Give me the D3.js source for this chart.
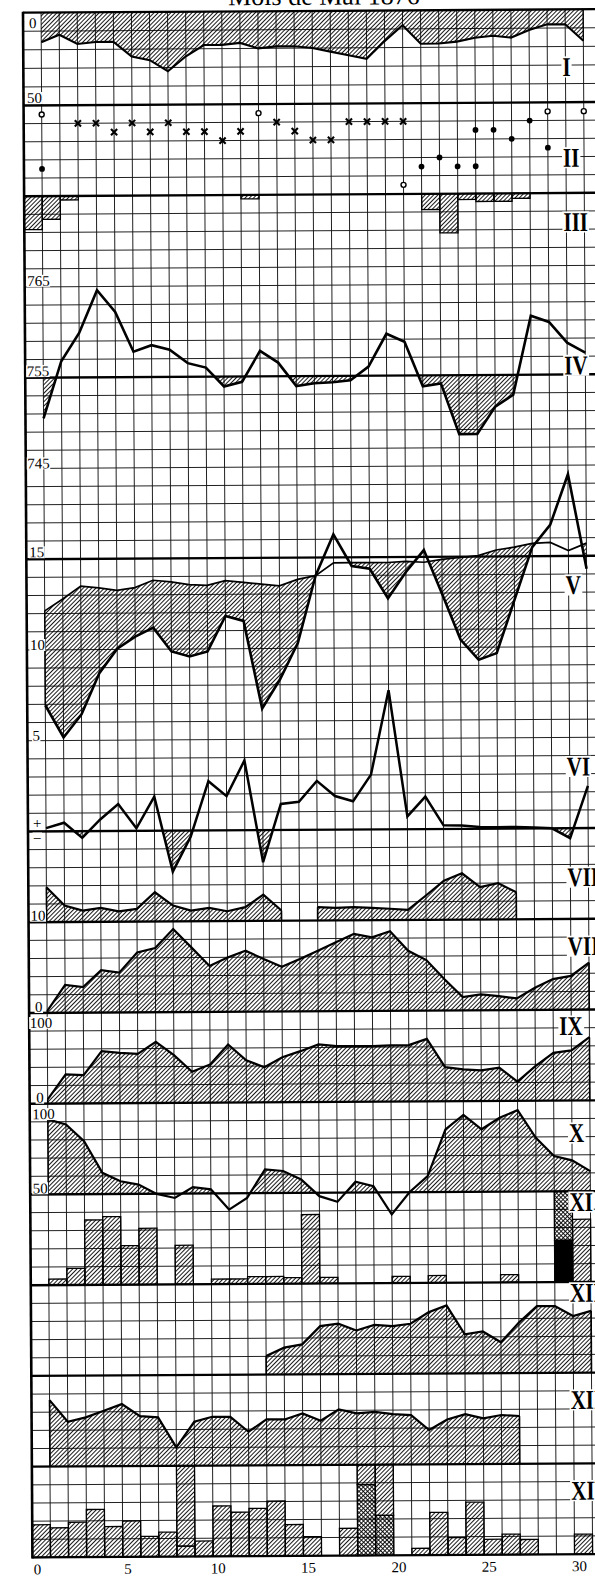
<!DOCTYPE html>
<html>
<head>
<meta charset="utf-8">
<script src="https://cdn.jsdelivr.net/npm/d3@7"></script>
<style>
  body { margin: 0; background: #fff; }
  svg { display: block; }
</style>
</head>
<body>
<svg id="chart" width="595" height="1577"></svg>
<script>
// ---- Data: May 1876, one value per day (1..31) ----
const days = d3.range(1, 32);
const dayTicks = [0, 5, 10, 15, 20, 25, 30];
const panelNames = ["I","II","III","IV","V","VI","VII","VIII","IX","X","XI","XII","XIII","XIV"];

// I  – hatched from the top line (0) downward, scale 0..50
const seriesI = [16,12,17,16,16,24,26,32,24,18,18,17,20,19,19,20,22,24,26,16.5,8,18,18,17,15,14,15,11,8,8,17];

// II – sky symbols, [day, level 0..10]
const skyOpen  = [[1,1],[13,1],[21,9],[29,1],[31,1]];
const skyCross = [[3,2],[4,2],[5,3],[6,2],[7,3],[8,2],[9,3],[10,3],[11,4],[12,3],[14,2],[15,3],[16,4],[17,4],[18,2],[19,2],[20,2],[21,2]];
const skyDot   = [[1,7],[22,7],[23,6],[24,7],[25,3],[25,7],[26,3],[27,4],[28,2],[29,5]];

// III – bars hanging from the top line, [day, value]
const seriesIII = [[1,9.2],[2,6.4],[3,1.1],[13,1.1],[23,4.35],[24,10.8],[25,1.65],[26,2.2],[27,2.2],[28,1.4]];

// IV – barometer (mm), reference 755
const pressure = [750.5,756.8,759.9,764.6,762.2,757.8,758.5,758.0,756.5,756.0,753.9,754.4,757.8,756.5,753.9,754.2,754.3,754.5,756.0,759.6,758.7,753.8,754.1,748.5,748.5,751.5,752.8,761.5,760.8,758.5,757.4];

// V – temperature: smooth reference curve and daily curve
const tempRef = [12.15,12.8,13.5,13.4,13.25,13.4,13.8,13.7,13.55,13.5,13.75,13.65,13.55,13.45,13.8,14.0,14.7,14.7,14.7,14.7,14.75,14.7,14.85,14.95,15.05,15.35,15.5,15.7,15.75,15.3,15.7];
const tempDay = [6.95,5.17,6.43,8.7,10.04,10.7,11.19,9.87,9.59,9.86,11.81,11.53,6.69,8.3,10.3,14.0,16.27,14.52,14.36,12.72,14.17,15.37,12.95,10.43,9.31,9.67,12.6,15.5,16.72,19.5,14.29];

// VI – departure above / below zero
const seriesVI = [0.18,0.47,-0.37,0.64,1.48,0.14,1.88,-2.26,-0.34,2.71,1.88,3.84,-1.77,1.43,1.55,2.69,1.85,1.56,3.02,7.66,0.7,1.79,0.2,0.18,0.1,0.08,0.08,0.05,0,-0.55,2.32];

// VII – above base 10
const seriesVII = [11.92,10.91,10.62,10.77,10.57,10.7,11.61,10.87,10.59,10.73,10.54,10.76,11.44,10.56,null,10.73,10.69,10.72,10.68,10.62,10.55,11.34,12.15,12.55,11.78,11.99,11.49,null,null,null,null];

// VIII – scale 0..50
const seriesVIII = [0.9,15.3,14.1,23.3,21.9,33.0,35.4,45.8,35.6,25.3,29.9,33.6,28.9,24.6,28.8,33.3,37.9,42.5,40.5,43.8,33.0,27.8,17.2,7.3,8.7,7.7,6.4,12.2,16.9,18.6,25.9];

// IX – scale 0..100
const seriesIX = [4.7,32.1,31.1,57.4,55.4,54.2,67.3,52.5,34.1,42.1,64.0,46.3,38.7,49.6,56.1,63.4,61.4,61.2,61.1,61.8,62.0,68.8,37.5,34.9,33.7,36.5,21.0,38.0,52.5,55.1,69.6];

// X – scale 50..100, hatched above 50
const seriesX = [91.3,88.5,79.2,61.7,57.0,55.1,49.9,47.6,53.5,52.2,41.0,47.4,63.0,62.1,57.4,48.1,44.9,55.9,53.4,37.8,50.1,58.8,84.5,92.4,84.4,90.7,94.8,79.5,69.4,67.0,61.0];

// XI – daily bars, plus a two-part bar on day 30
const seriesXI = [0,0.66,1.83,7.15,7.5,4.3,6.2,0,4.3,0,0.55,0.55,0.8,0.8,0.66,7.6,0.66,0,0,0,0.73,0,0.8,0,0,0,0.85,0,0,0,6.9];
const xiSolid = [[30,4.6]];
const xiCross = [[30,5.4]];

// XII – from the 13th onward
const seriesXII = [null,null,null,null,null,null,null,null,null,null,null,null,2.05,2.95,3.3,5.3,5.55,4.8,5.4,5.25,5.5,6.75,7.5,4.3,4.6,3.4,5.55,7.35,7.35,6.25,6.8];

// XIII – up to the 27th
const seriesXIII = [7.33,4.93,5.4,6.11,6.84,5.5,5.35,2.03,4.84,5.38,5.37,3.71,5.05,5.04,5.69,4.87,6.11,5.66,5.82,5.56,5.44,3.78,4.93,5.51,5.02,5.38,5.26,null,null,null,null];

// XIV – daily bars: hatched base, cross-hatched base, hatched upper part
const xivBase  = [3.6,3.25,3.85,5.25,3.35,3.95,2.25,2.7,1.15,1.7,5.55,4.85,5.25,6.05,3.45,2.1,0,3.0,0,0,0,0.75,4.7,1.9,5.8,1.7,2.25,1.65,0,0,2.2];
const xivCross = [[19,7.8],[20,4.4]];
const xivUpper = [[9,8.85],[19,2.2],[20,5.6]];

// ---- Layout ----
const svg = d3.select("#chart");
svg.append("rect").attr("width", 595).attr("height", 1577).attr("fill", "#fff");
const defs = svg.append("defs");
const sheet = svg.append("g").attr("transform", "rotate(-0.35,23,13)");

const x = d3.scaleLinear().domain([0, 31]).range([23, 23 + 31 * 18.07]);
const row = d3.scaleLinear().domain([0, 5, 85]).range([12.7, 105.5, 1557.5]);

const yI    = d3.scaleLinear().domain([0, 50]).range([row(0), row(5)]);
const yII   = d3.scaleLinear().domain([0, 10]).range([row(5), row(10)]);
const yIII  = d3.scaleLinear().domain([0, 10]).range([row(10), row(12)]);
const yIV   = d3.scaleLinear().domain([765, 745]).range([row(15), row(25)]);
const yV    = d3.scaleLinear().domain([15, 5]).range([row(30), row(40)]);
const yVI   = d3.scaleLinear().domain([0, 5]).range([row(45), row(40)]);
const yVII  = d3.scaleLinear().domain([10, 15]).range([row(50), row(45)]);
const yVIII = d3.scaleLinear().domain([0, 50]).range([row(55), row(50)]);
const yIX   = d3.scaleLinear().domain([0, 100]).range([row(60), row(55)]);
const yX    = d3.scaleLinear().domain([50, 100]).range([row(65), row(60)]);
const yXI   = d3.scaleLinear().domain([0, 10]).range([row(70), row(65)]);
const yXII  = d3.scaleLinear().domain([0, 10]).range([row(75), row(70)]);
const yXIII = d3.scaleLinear().domain([0, 10]).range([row(80), row(75)]);
const yXIV  = d3.scaleLinear().domain([0, 10]).range([row(85), row(80)]);

// ---- Hatch patterns ----
function pattern(id, cross) {
  const s = 3;
  const p = defs.append("pattern").attr("id", id)
    .attr("patternUnits", "userSpaceOnUse")
    .attr("width", s).attr("height", s)
    .attr("patternTransform", "rotate(45)");
  p.append("line").attr("x1", s / 2).attr("x2", s / 2).attr("y1", 0).attr("y2", s)
    .attr("stroke", "#000").attr("stroke-width", 0.9);
  if (cross) {
    p.append("line").attr("y1", s / 2).attr("y2", s / 2).attr("x1", 0).attr("x2", s)
      .attr("stroke", "#000").attr("stroke-width", 0.9);
  }
}
pattern("hatch", false);
pattern("xhatch", true);

function clipRect(id, y0, y1) {
  defs.append("clipPath").attr("id", id).append("rect")
    .attr("x", x(0) - 5).attr("width", 640).attr("y", y0).attr("height", y1 - y0);
}

// ---- Grid ----
const grid = sheet.append("g");
const heavyRows = [0, 5, 10, 20, 30, 45, 50, 55, 60, 65, 70, 75, 80, 85];
grid.selectAll("line.h").data(d3.range(0, 86).filter(k => !heavyRows.includes(k))).join("line")
  .attr("x1", x(0)).attr("x2", 640).attr("y1", k => row(k)).attr("y2", k => row(k))
  .attr("stroke", "#151515").attr("stroke-width", 0.95);
grid.selectAll("line.v").data(d3.range(1, 34)).join("line")
  .attr("x1", d => x(d)).attr("x2", d => x(d)).attr("y1", row(0)).attr("y2", row(85))
  .attr("stroke", "#151515").attr("stroke-width", 0.95);

const marks = sheet.append("g");
const heavy = sheet.append("g");
heavy.selectAll("line").data(heavyRows).join("line")
  .attr("x1", x(0)).attr("x2", 640).attr("y1", k => row(k)).attr("y2", k => row(k))
  .attr("stroke", "#000").attr("stroke-width", 2.3);
heavy.append("line").attr("x1", x(0)).attr("x2", x(0)).attr("y1", row(0) - 1).attr("y2", row(85) + 1)
  .attr("stroke", "#000").attr("stroke-width", 2.6);

const pts = arr => arr.map((v, i) => ({ d: days[i], v }));
const ok = p => p.v !== null;

function hatchedArea(data, yScale, base, clipId) {
  const area = d3.area().defined(ok).x(p => x(p.d)).y0(yScale(base)).y1(p => yScale(p.v));
  const path = marks.append("path").attr("d", area(data)).attr("fill", "url(#hatch)");
  if (clipId) path.attr("clip-path", `url(#${clipId})`);
}
function curve(data, yScale, w) {
  const line = d3.line().defined(ok).x(p => x(p.d)).y(p => yScale(p.v));
  marks.append("path").attr("d", line(data)).attr("fill", "none")
    .attr("stroke", "#000").attr("stroke-width", w).attr("stroke-linejoin", "miter");
}
function edgedArea(data, yScale, base, w) {
  hatchedArea(data, yScale, base);
  curve(data, yScale, w);
  // vertical ends of each run down to the base
  const runs = [];
  data.forEach((p, i) => {
    if (!ok(p)) return;
    const prev = data[i - 1], next = data[i + 1];
    if (!prev || !ok(prev)) runs.push(p);
    if (!next || !ok(next)) runs.push(p);
  });
  marks.selectAll(null).data(runs).join("line")
    .attr("x1", p => x(p.d)).attr("x2", p => x(p.d))
    .attr("y1", yScale(base)).attr("y2", p => yScale(p.v))
    .attr("stroke", "#000").attr("stroke-width", 1.6);
}

// I
const dI = pts(seriesI);
hatchedArea(dI, yI, 0);
curve(dI, yI, 2.1);
marks.append("line").attr("x1", x(31)).attr("x2", x(31)).attr("y1", yI(0)).attr("y2", yI(seriesI[30]))
  .attr("stroke", "#000").attr("stroke-width", 1.2);

// II
marks.selectAll("circle.o").data(skyOpen).join("circle")
  .attr("cx", d => x(d[0])).attr("cy", d => yII(d[1])).attr("r", 2.5)
  .attr("fill", "#fff").attr("stroke", "#000").attr("stroke-width", 1.4);
marks.selectAll("circle.f").data(skyDot).join("circle")
  .attr("cx", d => x(d[0])).attr("cy", d => yII(d[1])).attr("r", 2.9).attr("fill", "#000");
marks.selectAll("path.x").data(skyCross).join("path")
  .attr("d", d => {
    const cx = x(d[0]), cy = yII(d[1]), s = 3.1;
    return `M${cx - s},${cy - s}L${cx + s},${cy + s}M${cx + s},${cy - s}L${cx - s},${cy + s}`;
  })
  .attr("stroke", "#000").attr("stroke-width", 2.1);

// III
marks.selectAll("rect.iii").data(seriesIII).join("rect")
  .attr("x", d => x(d[0] - 1)).attr("width", d => x(d[0]) - x(d[0] - 1))
  .attr("y", yIII(0)).attr("height", d => yIII(d[1]) - yIII(0))
  .attr("fill", "url(#hatch)").attr("stroke", "#000").attr("stroke-width", 1.3);

// IV
clipRect("belowIV", yIV(755), row(30));
const dIV = pts(pressure);
hatchedArea(dIV, yIV, 755, "belowIV");
curve(dIV, yIV, 2.6);

// V
const dRef = pts(tempRef), dDay = pts(tempDay);
defs.append("clipPath").attr("id", "belowRef").append("path")
  .attr("d", d3.area().x(p => x(p.d)).y0(row(46)).y1(p => yV(p.v))(dRef));
marks.append("path")
  .attr("d", d3.area().x(p => x(p.d)).y0((p, i) => yV(tempRef[i])).y1(p => yV(p.v))(dDay))
  .attr("fill", "url(#hatch)").attr("clip-path", "url(#belowRef)");
marks.append("line").attr("x1", x(1)).attr("x2", x(1)).attr("y1", yV(tempRef[0])).attr("y2", yV(tempDay[0]))
  .attr("stroke", "#000").attr("stroke-width", 1.4);
curve(dRef, yV, 1.7);
curve(dDay, yV, 2.6);

// VI
clipRect("belowVI", yVI(0), row(50));
const dVI = pts(seriesVI);
hatchedArea(dVI, yVI, 0, "belowVI");
curve(dVI, yVI, 2.5);

// VII, VIII, IX
edgedArea(pts(seriesVII), yVII, 10, 2.2);
edgedArea(pts(seriesVIII), yVIII, 0, 2.2);
edgedArea(pts(seriesIX), yIX, 0, 2.2);

// X
clipRect("aboveX", row(60) - 2, yX(50));
const dX = pts(seriesX);
hatchedArea(dX, yX, 50, "aboveX");
curve(dX, yX, 2.2);
marks.append("line").attr("x1", x(1)).attr("x2", x(1)).attr("y1", yX(50)).attr("y2", yX(seriesX[0]))
  .attr("stroke", "#000").attr("stroke-width", 1.4);

// XI
const barW = d => x(d) - x(d - 1);
marks.selectAll("rect.xi").data(pts(seriesXI).filter(p => p.v > 0)).join("rect")
  .attr("x", p => x(p.d - 1)).attr("width", p => barW(p.d))
  .attr("y", p => yXI(p.v)).attr("height", p => yXI(0) - yXI(p.v))
  .attr("fill", "url(#hatch)").attr("stroke", "#000").attr("stroke-width", 1.3);
marks.selectAll("rect.xis").data(xiSolid).join("rect")
  .attr("x", d => x(d[0] - 1)).attr("width", d => barW(d[0]))
  .attr("y", d => yXI(d[1])).attr("height", d => yXI(0) - yXI(d[1]))
  .attr("fill", "#000").attr("stroke", "#000").attr("stroke-width", 1.3);
marks.selectAll("rect.xic").data(xiCross).join("rect")
  .attr("x", d => x(d[0] - 1)).attr("width", d => barW(d[0]))
  .attr("y", d => yXI(d[1] + xiSolid.find(s => s[0] === d[0])[1]))
  .attr("height", d => yXI(0) - yXI(d[1]))
  .attr("fill", "url(#xhatch)").attr("stroke", "#000").attr("stroke-width", 1.3);

// XII, XIII
edgedArea(pts(seriesXII), yXII, 0, 2.2);
edgedArea(pts(seriesXIII), yXIII, 0, 2.2);

// XIV
marks.selectAll("rect.xiv").data(pts(xivBase).filter(p => p.v > 0)).join("rect")
  .attr("x", p => x(p.d - 1)).attr("width", p => barW(p.d))
  .attr("y", p => yXIV(p.v)).attr("height", p => yXIV(0) - yXIV(p.v))
  .attr("fill", "url(#hatch)").attr("stroke", "#000").attr("stroke-width", 1.3);
marks.selectAll("rect.xivc").data(xivCross).join("rect")
  .attr("x", d => x(d[0] - 1)).attr("width", d => barW(d[0]))
  .attr("y", d => yXIV(d[1])).attr("height", d => yXIV(0) - yXIV(d[1]))
  .attr("fill", "url(#xhatch)").attr("stroke", "#000").attr("stroke-width", 1.3);
const lowerOf = day => xivBase[day - 1] + ((xivCross.find(c => c[0] === day) || [0, 0])[1]);
marks.selectAll("rect.xivu").data(xivUpper).join("rect")
  .attr("x", d => x(d[0] - 1)).attr("width", d => barW(d[0]))
  .attr("y", d => yXIV(lowerOf(d[0]) + d[1])).attr("height", d => yXIV(lowerOf(d[0])) - yXIV(lowerOf(d[0]) + d[1]))
  .attr("fill", "url(#hatch)").attr("stroke", "#000").attr("stroke-width", 1.3);

// ---- Text ----
const labels = sheet.append("g").attr("font-family", "'Liberation Serif', 'DejaVu Serif', serif").attr("fill", "#000");
function boxed(t, pad) {
  const b = t.node().getBBox();
  labels.insert("rect", () => t.node())
    .attr("x", b.x - pad).attr("y", b.y + 2).attr("width", b.width + 2 * pad).attr("height", b.height - 4)
    .attr("fill", "#fff");
}
function sideLabel(txt, yLine, dy, dx) {
  const t = labels.append("text").attr("x", x(0) + dx).attr("y", yLine + dy)
    .attr("font-size", 15).text(txt);
  boxed(t, 0.5);
}
sideLabel("0", yI(0), 15.5, 6);
sideLabel("50", yI(50), -2.5, 3.5);
sideLabel("765", yIV(765), -1, 2.5);
sideLabel("755", yIV(755), -1.5, 1.5);
sideLabel("745", yIV(745), 0, 1.5);
sideLabel("15", yV(15), -2, 3);
sideLabel("10", yV(10), 0, 3);
sideLabel("5", yV(5), 0, 5);
sideLabel("+", yVI(0), -3, 5);
sideLabel("\u2212", yVI(0), 12, 5);
sideLabel("10", yVII(10), -1.5, 2);
sideLabel("0", yVIII(0), -1, 6);
sideLabel("100", yIX(100), 15, 0.5);
sideLabel("0", yIX(0), -1, 6.5);
sideLabel("100", yX(100), 15.5, 2.5);
sideLabel("50", yX(50), -1, 2.5);

// Panel numerals at the right edge
const nameRows = [3.1, 8.06, 11.6, 19.5, 31.6, 41.6, 47.7, 51.5, 55.9, 61.8, 65.6, 70.6, 76.5, 81.5];
panelNames.forEach((nm, i) => {
  const lx = x(30) - (nm === "IX" ? 12 : 3);
  const t = labels.append("text")
    .attr("transform", `translate(${lx},${row(nameRows[i]) + 9}) scale(0.78,1)`)
    .attr("font-size", 27).attr("font-weight", "bold").text(nm);
  const b = t.node().getBBox();
  labels.insert("rect", () => t.node())
    .attr("x", lx + b.x * 0.78 - 1).attr("y", row(nameRows[i]) + 9 + b.y + 5)
    .attr("width", b.width * 0.78 + 2).attr("height", b.height - 9).attr("fill", "#fff");
});

// Day axis
labels.selectAll("text.day").data(dayTicks).join("text")
  .attr("x", d => x(d) + 5).attr("y", row(85) + 17).attr("text-anchor", "middle")
  .attr("font-size", 15).text(d => d);

// Title
labels.append("text").attr("x", 324).attr("y", 6.5).attr("text-anchor", "middle")
  .attr("font-size", 26).text("Mois de Mai 1876");
</script>
</body>
</html>
